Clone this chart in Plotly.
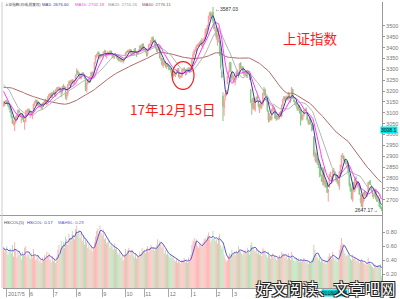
import plotly.graph_objects as go
import pandas as pd

# ---------------- data ----------------
# closes before the first visible candle (only used to seed the moving averages)
pre_closes = [3159, 3136, 3143, 3149, 3155, 3159,
              3140, 3157, 3153, 3166, 3183, 3196, 3217, 3212, 3202, 3211, 3237, 3240, 3253, 3251, 3228, 3241,
              3218, 3230, 3218, 3233, 3212, 3216, 3212, 3237, 3239, 3241, 3268, 3237, 3250, 3261, 3269, 3250,
              3248, 3241, 3269, 3222, 3241, 3223,
              3223, 3270, 3281, 3286, 3269, 3288, 3273, 3274, 3276, 3222, 3196, 3173, 3172, 3129, 3134]

opens = [3134, 3138, 3150,
         3155, 3141, 3131, 3125, 3098, 3078, 3050, 3046, 3058, 3077, 3084, 3108, 3095, 3089, 3092, 3078, 3056, 3061, 3103, 3101,
         3114, 3097, 3103, 3083, 3105, 3137, 3148, 3158, 3135, 3148, 3127, 3134, 3121, 3141, 3136, 3155, 3139, 3153, 3171, 3181, 3188, 3170,
         3196, 3195, 3178, 3206, 3211, 3211, 3213, 3203, 3195, 3222, 3216, 3218, 3169, 3186, 3228, 3242, 3234, 3249, 3236, 3243, 3250,
         3275, 3291, 3284, 3267, 3259, 3278, 3282, 3271, 3252, 3204, 3235, 3254, 3243, 3270, 3285, 3265, 3288, 3331, 3359, 3363, 3376, 3356, 3364,
         3362, 3364, 3377, 3384, 3362, 3364, 3375, 3369, 3384, 3372, 3360, 3353, 3371, 3365, 3356, 3353, 3340, 3350, 3344, 3339, 3342,
         3363, 3373, 3383, 3380, 3385, 3389, 3370, 3377, 3370, 3393, 3376, 3370, 3377, 3388, 3405, 3395, 3416,
         3393, 3394, 3384, 3366, 3388, 3411, 3413, 3432, 3445, 3425, 3432, 3396, 3387, 3389, 3408, 3345, 3349, 3318, 3327, 3334, 3313, 3323,
         3314, 3308, 3301, 3290, 3269, 3289, 3270, 3279, 3290, 3302, 3262, 3266, 3266, 3296, 3300, 3298, 3277, 3297, 3294, 3305, 3291,
         3314, 3347, 3371, 3386, 3391, 3406, 3414, 3415, 3421, 3428, 3408, 3435, 3444, 3469, 3487, 3499, 3547, 3558, 3544, 3563, 3516, 3476,
         3479, 3432, 3448, 3427, 3390, 3289, 3177, 3122, 3173, 3181, 3234, 3270, 3288, 3332, 3288,
         3258, 3256, 3240, 3258, 3289, 3287, 3287, 3328, 3304, 3312, 3288, 3276, 3291, 3274, 3288, 3274, 3204, 3141, 3120, 3166, 3113, 3162,
         3173, 3157, 3109, 3143, 3127, 3137, 3188, 3204, 3172, 3151, 3107, 3068, 3078, 3070, 3110, 3120, 3114, 3085, 3070,
         3083, 3077, 3097, 3083, 3135, 3162, 3172, 3161, 3175, 3161, 3186, 3165, 3170, 3208, 3160, 3152, 3141, 3128, 3117, 3134, 3113,
         3087, 3069, 3090, 3110, 3117, 3097, 3064, 3051, 3075, 3046, 3043, 2990, 2900, 2910, 2872, 2890, 2851, 2841, 2808, 2782,
         2843, 2770, 2785, 2767, 2735, 2756, 2815, 2805, 2781, 2833, 2828, 2814, 2795, 2787, 2760, 2813, 2857, 2897, 2901, 2880, 2869, 2868,
         2869, 2817, 2767, 2746, 2700, 2779, 2742, 2801, 2766, 2773, 2767, 2696, 2720, 2672, 2693, 2737, 2722, 2719, 2737, 2779, 2771, 2764, 2738,
         2717, 2723, 2747, 2701, 2697, 2697, 2671, 2664]

highs = [3146, 3156, 3159,
         3160, 3149, 3135, 3127, 3106, 3085, 3066, 3064, 3086, 3099, 3116, 3115, 3102, 3093, 3099, 3087, 3065, 3112, 3114, 3119,
         3120, 3107, 3106, 3104, 3141, 3153, 3161, 3160, 3155, 3150, 3139, 3138, 3146, 3149, 3159, 3165, 3160, 3177, 3187, 3191, 3195, 3194,
         3203, 3198, 3208, 3218, 3219, 3222, 3218, 3204, 3223, 3232, 3224, 3219, 3188, 3232, 3248, 3250, 3252, 3255, 3253, 3251, 3276,
         3305, 3297, 3288, 3276, 3280, 3288, 3286, 3280, 3257, 3238, 3253, 3258, 3269, 3289, 3291, 3289, 3334, 3366, 3372, 3381, 3383, 3368, 3370,
         3371, 3381, 3391, 3387, 3367, 3385, 3381, 3386, 3387, 3376, 3366, 3371, 3376, 3369, 3360, 3357, 3355, 3352, 3349, 3345, 3352,
         3379, 3384, 3389, 3392, 3394, 3392, 3382, 3385, 3396, 3398, 3382, 3384, 3392, 3411, 3412, 3418, 3420,
         3404, 3398, 3388, 3390, 3415, 3420, 3435, 3450, 3452, 3435, 3438, 3403, 3396, 3418, 3410, 3361, 3352, 3337, 3341, 3339, 3329, 3330,
         3320, 3314, 3305, 3295, 3292, 3295, 3285, 3298, 3306, 3306, 3277, 3274, 3300, 3305, 3310, 3302, 3300, 3305, 3310, 3308, 3310,
         3349, 3379, 3392, 3402, 3412, 3417, 3423, 3428, 3435, 3443, 3438, 3450, 3488, 3488, 3505, 3547, 3564, 3567, 3563, 3587.03, 3524, 3497,
         3495, 3465, 3494, 3433, 3396, 3301, 3194, 3170, 3190, 3205, 3270, 3293, 3335, 3334, 3290,
         3275, 3266, 3263, 3291, 3298, 3288, 3328, 3333, 3313, 3314, 3293, 3295, 3295, 3298, 3293, 3277, 3210, 3160, 3170, 3170, 3163, 3175,
         3181, 3159, 3140, 3159, 3142, 3192, 3220, 3212, 3175, 3157, 3111, 3098, 3087, 3118, 3136, 3128, 3114, 3094, 3090,
         3094, 3102, 3108, 3137, 3164, 3177, 3175, 3180, 3177, 3196, 3186, 3170, 3219, 3209, 3170, 3156, 3147, 3133, 3138, 3135, 3116,
         3109, 3091, 3115, 3118, 3125, 3103, 3069, 3082, 3077, 3051, 3047, 2990, 2931, 2918, 2895, 2890, 2864, 2850, 2815, 2850,
         2843, 2796, 2787, 2775, 2748, 2816, 2827, 2808, 2838, 2846, 2829, 2820, 2807, 2788, 2831, 2862, 2906, 2915, 2903, 2890, 2884, 2877,
         2871, 2818, 2775, 2755, 2782, 2781, 2797, 2808, 2786, 2786, 2768, 2729, 2723, 2707, 2735, 2741, 2738, 2733, 2781, 2788, 2790, 2768, 2742,
         2729, 2752, 2747, 2716, 2716, 2697, 2677, 2669]

lows = [3127, 3130, 3141,
        3139, 3128, 3115, 3099, 3076, 3048, 3041, 3016, 3050, 3073, 3080, 3100, 3082, 3053, 3068, 3057, 3022, 3056, 3094, 3089,
        3095, 3075, 3087, 3070, 3101, 3130, 3143, 3133, 3128, 3124, 3123, 3118, 3114, 3127, 3135, 3139, 3135, 3149, 3160, 3176, 3168, 3169,
        3186, 3173, 3174, 3199, 3203, 3204, 3191, 3172, 3186, 3213, 3206, 3162, 3156, 3177, 3225, 3224, 3225, 3235, 3229, 3230, 3249,
        3270, 3275, 3263, 3256, 3254, 3274, 3268, 3256, 3200, 3193, 3231, 3240, 3237, 3265, 3267, 3258, 3287, 3327, 3352, 3359, 3350, 3345, 3355,
        3353, 3360, 3373, 3358, 3349, 3360, 3365, 3364, 3368, 3354, 3350, 3348, 3360, 3350, 3342, 3336, 3335, 3331, 3334, 3327, 3337,
        3360, 3367, 3376, 3373, 3378, 3366, 3363, 3366, 3367, 3377, 3357, 3366, 3372, 3384, 3393, 3390, 3386,
        3386, 3378, 3359, 3360, 3384, 3404, 3410, 3425, 3424, 3412, 3395, 3380, 3375, 3386, 3350, 3338, 3316, 3306, 3318, 3308, 3301, 3310,
        3296, 3296, 3285, 3266, 3262, 3270, 3264, 3275, 3286, 3263, 3254, 3259, 3262, 3288, 3292, 3271, 3274, 3290, 3288, 3282, 3286,
        3314, 3346, 3365, 3380, 3384, 3403, 3404, 3405, 3418, 3405, 3393, 3430, 3443, 3461, 3481, 3499, 3528, 3535, 3537, 3513, 3482, 3453,
        3437, 3409, 3424, 3361, 3300, 3261, 3062, 3086, 3155, 3176, 3231, 3261, 3288, 3287, 3244,
        3250, 3239, 3227, 3252, 3280, 3261, 3281, 3302, 3294, 3281, 3269, 3271, 3262, 3260, 3275, 3251, 3144, 3091, 3115, 3112, 3105, 3153,
        3161, 3124, 3099, 3121, 3117, 3132, 3180, 3176, 3150, 3104, 3055, 3058, 3065, 3064, 3106, 3111, 3072, 3063, 3068,
        3069, 3070, 3085, 3079, 3130, 3155, 3150, 3158, 3157, 3157, 3164, 3146, 3168, 3163, 3149, 3137, 3126, 3110, 3108, 3097, 3041,
        3064, 3065, 3083, 3103, 3106, 3064, 3045, 3043, 3047, 3015, 3019, 2897, 2879, 2869, 2861, 2845, 2803, 2807, 2782, 2766,
        2763, 2755, 2754, 2730, 2691, 2756, 2804, 2772, 2781, 2822, 2808, 2782, 2774, 2762, 2745, 2810, 2849, 2889, 2877, 2865, 2857, 2843,
        2815, 2759, 2736, 2701, 2690, 2737, 2734, 2782, 2751, 2758, 2723, 2684, 2666, 2653, 2687, 2718, 2711, 2713, 2737, 2768, 2768, 2734, 2712,
        2703, 2712, 2700, 2690, 2697, 2665, 2657, 2647.17]

closes = [3140, 3152, 3155,
          3143, 3135, 3127, 3103, 3080, 3052, 3052, 3061, 3083, 3086, 3112, 3104, 3090, 3090, 3075, 3062, 3064, 3107, 3110, 3117,
          3102, 3105, 3091, 3103, 3140, 3150, 3158, 3139, 3153, 3130, 3132, 3123, 3144, 3140, 3157, 3147, 3157, 3173, 3185, 3188, 3173, 3192,
          3195, 3182, 3207, 3212, 3217, 3212, 3203, 3197, 3222, 3218, 3222, 3176, 3187, 3230, 3244, 3237, 3250, 3243, 3247, 3249, 3273,
          3292, 3285, 3272, 3262, 3279, 3282, 3275, 3262, 3208, 3237, 3251, 3246, 3268, 3286, 3271, 3287, 3331, 3362, 3365, 3375, 3362, 3365, 3360,
          3367, 3379, 3385, 3366, 3365, 3379, 3370, 3384, 3373, 3362, 3356, 3370, 3366, 3357, 3353, 3341, 3351, 3345, 3339, 3341, 3349,
          3374, 3383, 3382, 3386, 3390, 3372, 3378, 3370, 3394, 3380, 3371, 3381, 3388, 3407, 3397, 3416, 3393,
          3396, 3384, 3371, 3388, 3413, 3415, 3432, 3447, 3430, 3429, 3399, 3390, 3392, 3410, 3353, 3353, 3323, 3333, 3337, 3317, 3322, 3317,
          3310, 3303, 3293, 3272, 3289, 3275, 3280, 3292, 3303, 3266, 3267, 3268, 3296, 3301, 3300, 3280, 3297, 3296, 3307, 3290, 3307,
          3348, 3369, 3385, 3391, 3409, 3413, 3414, 3425, 3429, 3410, 3436, 3444, 3474, 3487, 3501, 3546, 3559, 3548, 3558, 3523, 3488, 3481,
          3447, 3462, 3487, 3370, 3309, 3262, 3129, 3154, 3185, 3199, 3268, 3289, 3329, 3292, 3259,
          3273, 3254, 3256, 3289, 3288, 3271, 3326, 3307, 3310, 3290, 3279, 3291, 3269, 3290, 3280, 3263, 3152, 3133, 3166, 3122, 3161, 3169,
          3163, 3131, 3138, 3136, 3140, 3190, 3208, 3180, 3159, 3110, 3067, 3091, 3071, 3117, 3128, 3119, 3076, 3071, 3082,
          3081, 3101, 3091, 3136, 3161, 3174, 3162, 3174, 3163, 3193, 3169, 3154, 3214, 3168, 3154, 3142, 3135, 3117, 3136, 3120, 3095,
          3075, 3091, 3114, 3115, 3109, 3067, 3052, 3079, 3049, 3044, 3021, 2907, 2915, 2875, 2889, 2859, 2844, 2813, 2786, 2847,
          2775, 2786, 2759, 2733, 2747, 2815, 2827, 2777, 2837, 2831, 2814, 2798, 2787, 2773, 2829, 2859, 2905, 2903, 2882, 2873, 2869, 2876,
          2824, 2768, 2740, 2705, 2779, 2745, 2795, 2795, 2785, 2781, 2724, 2705, 2669, 2698, 2733, 2724, 2729, 2730, 2780, 2777, 2770, 2738, 2725,
          2720, 2750, 2705, 2691, 2702, 2669, 2664, 2656]

hscol = [0.58, 0.52, 0.55,
         0.60, 0.48, 0.52, 0.57, 0.50, 0.62, 0.45, 0.66, 0.55, 0.44, 0.53, 0.47, 0.50, 0.41, 0.52, 0.46, 0.58, 0.60, 0.45, 0.49,
         0.47, 0.42, 0.50, 0.44, 0.56, 0.47, 0.40, 0.43, 0.48, 0.38, 0.41, 0.36, 0.44, 0.39, 0.47, 0.42, 0.52, 0.45, 0.50, 0.41, 0.37, 0.46,
         0.39, 0.42, 0.36, 0.45, 0.55, 0.62, 0.50, 0.68, 0.60, 0.66, 0.58, 0.74, 0.70, 0.62, 0.78, 0.72, 0.68, 0.82, 0.76, 0.70, 0.85,
         0.90, 0.78, 0.84, 0.72, 0.80, 0.68, 0.75, 0.62, 0.70, 0.66, 0.58, 0.64, 0.55, 0.60, 0.52, 0.58, 0.66, 0.74, 0.82, 0.86, 0.78, 0.90, 0.80,
         0.76, 0.84, 0.70, 0.72, 0.64, 0.66, 0.68, 0.58, 0.62, 0.60, 0.55, 0.64, 0.56, 0.58, 0.50, 0.48, 0.52, 0.44, 0.46, 0.40, 0.48,
         0.56, 0.50, 0.54, 0.58, 0.48, 0.52, 0.55, 0.47, 0.44, 0.50, 0.42, 0.46, 0.45, 0.52, 0.49, 0.58, 0.53,
         0.55, 0.50, 0.57, 0.60, 0.52, 0.58, 0.62, 0.55, 0.59, 0.54, 0.56, 0.61, 0.70, 0.63, 0.68, 0.66, 0.58, 0.62, 0.50, 0.55, 0.48, 0.50,
         0.47, 0.44, 0.49, 0.43, 0.46, 0.40, 0.38, 0.42, 0.36, 0.40, 0.37, 0.35, 0.41, 0.39, 0.43, 0.37, 0.40, 0.36, 0.44, 0.39, 0.48,
         0.62, 0.68, 0.72, 0.66, 0.70, 0.60, 0.58, 0.64, 0.62, 0.60, 0.66, 0.70, 0.72, 0.68, 0.75, 0.80, 0.74, 0.66, 0.70, 0.82, 0.72, 0.68,
         0.70, 0.64, 0.74, 0.78, 0.62, 0.56, 0.60, 0.48, 0.42, 0.38, 0.40, 0.46, 0.50, 0.48, 0.55,
         0.50, 0.52, 0.47, 0.54, 0.51, 0.60, 0.56, 0.53, 0.50, 0.48, 0.52, 0.55, 0.50, 0.58, 0.53, 0.48, 0.62, 0.66, 0.58, 0.55, 0.52, 0.56,
         0.50, 0.54, 0.48, 0.52, 0.46, 0.58, 0.55, 0.50, 0.47, 0.44, 0.52, 0.46, 0.42, 0.48, 0.50, 0.44, 0.46, 0.40, 0.43,
         0.44, 0.47, 0.42, 0.52, 0.50, 0.48, 0.44, 0.46, 0.41, 0.50, 0.45, 0.40, 0.52, 0.44, 0.40, 0.38, 0.42, 0.39, 0.43, 0.37, 0.41,
         0.38, 0.40, 0.43, 0.39, 0.36, 0.40, 0.34, 0.38, 0.36, 0.40, 0.42, 0.62, 0.55, 0.48, 0.44, 0.40, 0.43, 0.37, 0.41, 0.40,
         0.36, 0.38, 0.34, 0.40, 0.45, 0.50, 0.46, 0.42, 0.52, 0.44, 0.40, 0.43, 0.38, 0.41, 0.55, 0.62, 0.72, 0.64, 0.55, 0.50, 0.46, 0.48,
         0.47, 0.50, 0.42, 0.40, 0.48, 0.42, 0.45, 0.40, 0.38, 0.41, 0.36, 0.40, 0.42, 0.38, 0.36, 0.34, 0.35, 0.33, 0.44, 0.38, 0.35, 0.32, 0.30,
         0.28, 0.34, 0.31, 0.31, 0.33, 0.30, 0.34, 0.17]

month_starts = [3, 23, 45, 66, 89, 110, 127, 149, 170, 192, 207, 229, 248, 269, 289, 311, 334]
month_labels = ["2017/5", "6", "7", "8", "9", "10", "11", "12", "1", "2", "3", "4", "5", "6", "7", "8", "9"]
price_ticks = [2700, 2750, 2800, 2850, 2900, 2950, 3000, 3050, 3100, 3150, 3200, 3250, 3300, 3350, 3400, 3450, 3500]
vol_ticks = [0.2, 0.4, 0.6, 0.8]
vol_tick_text = ["0.20", "0.40", "0.60", "0.80"]
legend_texts = ["MA5: 2676.60", "MA10: 2702.18", "MA20: 2716.26", "MA60: 2776.11"]

# ---------------- derived series ----------------
n = min(len(opens), len(highs), len(lows), len(closes), len(hscol))
idx = list(range(n))
full = pd.Series(pre_closes + closes[:n], dtype=float)
np_ = len(pre_closes)
ma = {p: full.rolling(p).mean().iloc[np_:].tolist() for p in (5, 10, 20, 60)}
mahsl = pd.Series(hscol[:n]).rolling(5, min_periods=1).mean().tolist()

UP_LINE, UP_FILL = "#ff9a9a", "#ffbcbc"
DN_LINE, DN_FILL = "#82c882", "#a8dca8"
bar_colors = ["#ffb0b0" if closes[i] >= opens[i] else "#acdeac" for i in idx]

# ---------------- geometry helpers ----------------
W, H = 400, 299
ML, MR, MT, MB = 3, 16, 2, 9
PW, PH = W - ML - MR, H - MT - MB


def px(x):
    return (x - ML) / PW


def py(y):
    return (H - MB - y) / PH


split = py(217)
SMALL = "Liberation Sans Narrow, Liberation Sans, Arial, sans-serif"
CJK = "Noto Sans CJK SC, sans-serif"

fig = go.Figure()
fig.add_trace(go.Candlestick(
    x=idx, open=opens[:n], high=highs[:n], low=lows[:n], close=closes[:n],
    increasing=dict(line=dict(color=UP_LINE, width=1), fillcolor=UP_FILL),
    decreasing=dict(line=dict(color=DN_LINE, width=1), fillcolor=DN_FILL),
    whiskerwidth=0, xaxis="x", yaxis="y", hoverinfo="skip"))

ma_colors = {5: "#3a3a9a", 10: "#ff3cff", 20: "#b4b4b4", 60: "#b06a6a"}
for p in (60, 20, 10, 5):
    fig.add_trace(go.Scatter(x=idx, y=ma[p], mode="lines",
                             line=dict(color=ma_colors[p], width=1),
                             xaxis="x", yaxis="y", hoverinfo="skip"))

fig.add_trace(go.Bar(x=idx, y=hscol[:n], marker=dict(color=bar_colors, line=dict(width=0)),
                     xaxis="x2", yaxis="y2", hoverinfo="skip"))
fig.add_trace(go.Scatter(x=idx, y=mahsl, mode="lines", line=dict(color="#5a5ad2", width=1),
                         xaxis="x2", yaxis="y2", hoverinfo="skip"))

xr = [-0.5, n - 0.5]
fig.update_layout(
    width=W, height=H, margin=dict(l=ML, r=MR, t=MT, b=MB),
    paper_bgcolor="white", plot_bgcolor="white", showlegend=False,
    bargap=0.2, hovermode=False,
    xaxis=dict(domain=[0, 1], anchor="y", range=xr, showticklabels=False, showgrid=False,
               zeroline=False, showline=False, rangeslider=dict(visible=False), fixedrange=True),
    yaxis=dict(domain=[split, 1], range=[2627, 3610], side="right", tickvals=price_ticks,
               tickfont=dict(size=5.5, color="#777", family=SMALL), ticks="outside", ticklen=2,
               tickcolor="#999", showline=True, linecolor="#999", linewidth=1, showgrid=False,
               zeroline=False),
    xaxis2=dict(domain=[0, 1], anchor="y2", range=xr, tickvals=month_starts, ticktext=month_labels,
                ticks="outside", ticklen=8, tickcolor="#aaa", tickfont=dict(size=5.5, color="#777", family=SMALL),
                ticklabelposition="outside right", showline=True, linecolor="#999", linewidth=1,
                showgrid=False, zeroline=False),
    yaxis2=dict(domain=[0, split], range=[0, 1.043], side="right", tickvals=vol_ticks, ticktext=vol_tick_text,
                tickfont=dict(size=5.5, color="#777", family=SMALL), ticks="outside", ticklen=2,
                tickcolor="#999", showline=True, linecolor="#999", linewidth=1, showgrid=False,
                zeroline=False),
)

shapes = [
    dict(type="line", xref="paper", yref="paper", x0=px(0), x1=1, y0=split, y1=split,
         line=dict(color="#999", width=1)),
    dict(type="line", xref="paper", yref="paper", x0=px(2), x1=px(2), y0=py(290), y1=1,
         line=dict(color="#ccc", width=1)),
    dict(type="circle", xref="paper", yref="paper", x0=px(173), x1=px(195), y0=py(90), y1=py(62),
         line=dict(color="#ff1a1a", width=1.2)),
]
fig.update_layout(shapes=shapes)

ann = []


def add_text(text, x, y, size, color, anchor="left", family=SMALL, **kw):
    ann.append(dict(text=text, xref="paper", yref="paper", x=px(x), y=py(y), xanchor=anchor,
                    yanchor="middle", showarrow=False, font=dict(size=size, color=color, family=family), **kw))


# header row
add_text("上证指数(日线,前复权)", 3, 5, 3.6, "#444", family=CJK)
leg_x = [40, 73, 107, 141]
leg_c = ["#3a3a9a", "#ff3cff", "#999999", "#a05050"]
for t, x, c in zip(legend_texts, leg_x, leg_c):
    add_text(t, x, 5, 4.3, c)

# volume header
add_text("HSCOL(5)", 2, 224, 4.3, "#444")
add_text("HSCOL: 0.17", 25, 224, 4.3, "#3a3ab0")
add_text("MAHSL: 0.29", 56, 224, 4.3, "#5a5ad2")

# extreme markers
add_text("←3587.03", 214, 9, 5, "#333")
add_text("2647.17→", 382, 211, 5, "#333", anchor="right")

# cursor boxes
add_text("3008.1", 391, 131, 5, "#000", anchor="center", bgcolor="#00e5e5", borderpad=0)
add_text("2018/07/05", 336, 295, 5, "#000", anchor="center", bgcolor="#00d8d8", borderpad=0)

# red labels
add_text("上证指数", 312, 38, 13.5, "#ff1a1a", anchor="center", family=CJK)
add_text("17年12月15日", 173, 110, 13.5, "#ff1a1a", anchor="center", family=CJK)

# watermark
ann.append(dict(text="好文阅读、文章吧网", xref="paper", yref="paper", x=px(328), y=py(290),
                xanchor="center", yanchor="middle", showarrow=False,
                font=dict(size=15.5, color="white", family=CJK,
                          shadow="1px 1px 0 #222, -1px -1px 0 #222, 1px -1px 0 #222, -1px 1px 0 #222")))

fig.update_layout(annotations=ann)
fig.write_html("out.html", config={"displayModeBar": False, "staticPlot": True})
